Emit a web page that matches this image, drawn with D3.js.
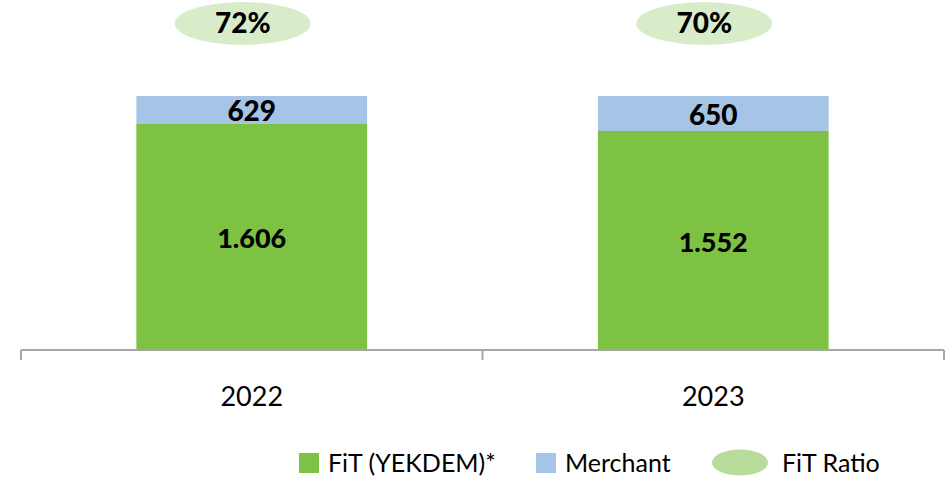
<!DOCTYPE html>
<html>
<head>
<meta charset="utf-8">
<script src="https://cdn.jsdelivr.net/npm/d3@7"></script>
<style>
  body { margin: 0; background: #fff; }
  text { font-family: Lato, "Noto Sans", sans-serif; fill: #000; }
</style>
</head>
<body>
<svg id="chart" width="946" height="480"></svg>
<script>
// chart values
var years = ["2022", "2023"];
var fit = [1606, 1552];
var merchant = [629, 650];
var fitRatio = [72, 70];
var legendLabels = ["FiT (YEKDEM)*", "Merchant", "FiT Ratio"];

var green = "#7dc243",
  blue = "#a6c4e6",
  ratioFill = "#d9ecca",
  ratioLegend = "#b8dc9b",
  axisGrey = "#a6a6a6";

var svg = d3.select("#chart");

var baseY = 350, topY = 96;

// band scale, bars take half of each band (Excel gap width 100%)
var x = d3.scaleBand().domain(years).range([21, 944]).paddingInner(0.5).paddingOuter(0.25);

// the value axis is capped at 1800, merchant bars get cut off at the top
var y = d3.scaleLinear().domain([0, 1800]).range([baseY, topY]);

var trFormat = d3.formatLocale({ decimal: ",", thousands: ".", grouping: [3], currency: ["", ""] }).format(",d");

var rows = years.map(function (yr, i) {
  return { year: yr, fit: fit[i], merchant: merchant[i], ratio: fitRatio[i] };
});

var stack = d3.stack().keys(["fit", "merchant"])(rows);
var colors = { fit: green, merchant: blue };

svg.append("clipPath").attr("id", "plotClip")
  .append("rect")
  .attr("x", 0).attr("y", topY)
  .attr("width", 946).attr("height", baseY - topY);

var bars = svg.append("g").attr("clip-path", "url(#plotClip)");

bars.selectAll("g.series")
  .data(stack)
  .join("g")
  .attr("class", "series")
  .attr("fill", function (d) { return colors[d.key]; })
  .selectAll("rect")
  .data(function (d) { return d; })
  .join("rect")
  .attr("x", function (d) { return x(d.data.year); })
  .attr("width", x.bandwidth())
  .attr("y", function (d) { return y(d[1]); })
  .attr("height", function (d) { return y(d[0]) - y(d[1]); });

// value labels, centred on the visible part of each segment
var labelSize = 27;
stack.forEach(function (s) {
  svg.append("g")
    .selectAll("text")
    .data(s)
    .join("text")
    .attr("x", function (d) { return x(d.data.year) + x.bandwidth() / 2; })
    .attr("y", function (d) {
      var top = Math.max(y(d[1]), topY);
      return (top + y(d[0])) / 2 + 2 + labelSize * 0.36;
    })
    .attr("text-anchor", "middle")
    .style("font-size", (s.key == "merchant" ? labelSize + 1 : labelSize) + "px")
    .style("font-weight", "900")
    .text(function (d) { return trFormat(d.data[s.key]); });
});

// FiT ratio bubbles above the bars
var ratio = svg.append("g").selectAll("g").data(rows).join("g")
  .attr("transform", function (d) {
    return "translate(" + (x(d.year) + x.bandwidth() / 2 - 9) + ",23.5)";
  });
ratio.append("ellipse").attr("rx", 68).attr("ry", 21.5).attr("fill", ratioFill);
ratio.append("text")
  .attr("text-anchor", "middle")
  .attr("y", labelSize * 0.36)
  .style("font-size", (labelSize + 1) + "px")
  .style("font-weight", "900")
  .text(function (d) { return d.ratio + "%"; });

// category axis
var axisG = svg.append("g").attr("transform", "translate(0," + baseY + ")");
axisG.call(d3.axisBottom(x).tickSize(0).tickPadding(37))
  .call(function (g) { g.select(".domain").remove(); })
  .selectAll("text")
  .style("font-size", "27px")
  .style("font-family", "Lato, 'Noto Sans', sans-serif")
  .attr("fill", "#000");

axisG.append("line")
  .attr("x1", x.range()[0]).attr("x2", x.range()[1])
  .attr("stroke", axisGrey).attr("stroke-width", 2);

var bounds = [x.range()[0]].concat(years.map(function (yr) { return x(yr) - x.step() * x.paddingInner() / 2 + x.step(); }));
axisG.selectAll("line.tick-b")
  .data(bounds)
  .join("line")
  .attr("class", "tick-b")
  .attr("x1", function (d) { return d; }).attr("x2", function (d) { return d; })
  .attr("y1", 0).attr("y2", 10)
  .attr("stroke", axisGrey).attr("stroke-width", 2);

// legend
var legend = svg.append("g").style("font-size", "25px");
var legendX = [299, 536, 712];
var textX = [328, 565, 782];

legend.append("rect").attr("x", legendX[0]).attr("y", 453).attr("width", 20).attr("height", 20).attr("fill", green);
legend.append("rect").attr("x", legendX[1]).attr("y", 453).attr("width", 20).attr("height", 20).attr("fill", blue);
legend.append("ellipse").attr("cx", legendX[2] + 28).attr("cy", 462.5).attr("rx", 28).attr("ry", 13).attr("fill", ratioLegend);

legend.selectAll("text")
  .data(legendLabels)
  .join("text")
  .attr("x", function (d, i) { return textX[i]; })
  .attr("y", 471.5)
  .text(function (d) { return d; });
</script>
</body>
</html>
